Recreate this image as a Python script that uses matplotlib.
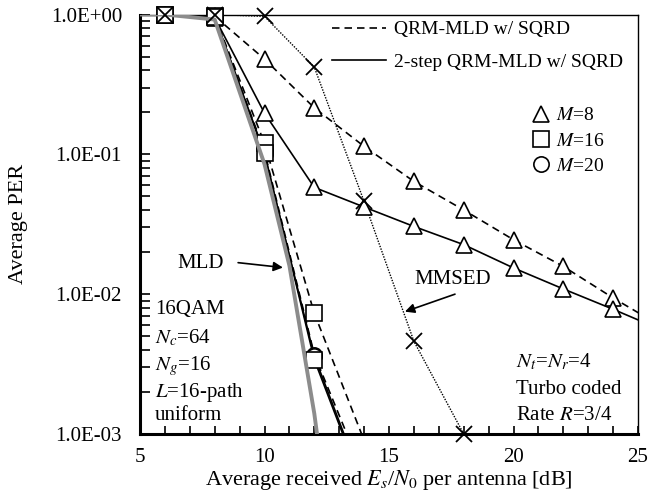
#!/usr/bin/env python
# -*- coding: utf-8 -*-

"""
Average PER vs. received Es/N0 for QRM-MLD w/ SQRD, 2-step QRM-MLD, MLD, MMSED.
"""

import numpy as np
import matplotlib
matplotlib.use("Agg")
import matplotlib.pyplot as plt
from matplotlib.lines import Line2D
from matplotlib.ticker import FixedLocator, MultipleLocator, LogLocator, NullFormatter

plt.rcParams['font.family'] = ['Liberation Serif', 'DejaVu Serif']
plt.rcParams['mathtext.fontset'] = 'stix'

# ---- data ----
snr = [6, 8, 10, 12, 14, 16, 18, 20, 22, 24, 26]

# M=8, QRM-MLD w/ SQRD (dashed)
per_qrm_m8 = [1.0, 0.97, 0.48, 0.215, 0.114, 0.064, 0.040, 0.0245, 0.0158, 0.0094, 0.0058]
# M=8, 2-step QRM-MLD w/ SQRD (solid)
per_2s_m8 = [1.0, 0.95, 0.197, 0.058, 0.042, 0.0305, 0.0226, 0.0154, 0.0109, 0.0078, 0.0055]

snr_hi = [6, 8, 10, 12, 14]
per_qrm_m16 = [1.0, 0.97, 0.12, 0.0073, 0.0009]
per_2s_m16 = [1.0, 0.96, 0.102, 0.0034, 0.0004]
per_qrm_m20 = [1.0, 0.96, 0.105, 0.0037, 0.0005]
per_2s_m20 = [1.0, 0.96, 0.100, 0.0036, 0.00042]

snr_mld = [5, 6, 8, 10, 11, 12, 12.5]
per_mld = [1.0, 1.0, 0.92, 0.085, 0.016, 0.0014, 0.0003]

snr_mmse = [6, 8, 10, 12, 14, 16, 18]
per_mmse = [1.0, 1.0, 0.97, 0.42, 0.046, 0.0046, 0.001]

y_ticks = [1e-3, 1e-2, 1e-1, 1.0]
y_tick_labels = ["1.0E-03", "1.0E-02", "1.0E-01", "1.0E+00"]

FS = 15
MS = 11

fig = plt.figure(figsize=(6.65, 5.0), dpi=100)
ax = fig.add_axes([140 / 665., 66 / 500., 498 / 665., 419.5 / 500.])
ax.set_yscale('log')
ax.set_xlim(5, 25)
ax.set_ylim(1e-3, 1.0)

dash = (0, (4.5, 3))


def curve(x, y, ls, marker, lw=1.2, color='black'):
    # line (clipped) + markers (not clipped, like the original)
    ax.plot(x, y, linestyle=ls, color=color, lw=lw, zorder=2)
    x = np.asarray(x, float)
    y = np.asarray(y, float)
    m = (y >= 1e-3 * 0.999) & (x <= 25)
    if marker is not None:
        ax.plot(x[m], y[m], linestyle='none', marker=marker, ms=MS,
                mfc='white', mec='black', mew=1.2, clip_on=False, zorder=3)


# MLD (thick gray)
ax.plot(snr_mld, per_mld, color='#8c8c8c', lw=2.8, zorder=4, clip_on=True)

# M=8 triangles
curve(snr, per_qrm_m8, dash, '^')
curve(snr, per_2s_m8, '-', '^')
# M=20 circles
curve(snr_hi, per_qrm_m20, dash, 'o')
curve(snr_hi, per_2s_m20, '-', 'o')
# M=16 squares
curve(snr_hi, per_qrm_m16, dash, 's')
curve(snr_hi, per_2s_m16, '-', 's')

# MMSED (dotted, crosses)
ax.plot(snr_mmse, per_mmse, linestyle=(0, (1, 1)), color='black', lw=1.0, zorder=2)
ax.plot(snr_mmse, per_mmse, linestyle='none', marker='x', ms=MS, mec='black',
        mew=1.3, clip_on=False, zorder=5)

# ---- axes styling ----
ax.yaxis.set_major_locator(FixedLocator(y_ticks))
ax.set_yticklabels(y_tick_labels)
ax.yaxis.set_minor_locator(LogLocator(base=10, subs=np.arange(2, 10)))
ax.yaxis.set_minor_formatter(NullFormatter())
ax.xaxis.set_major_locator(MultipleLocator(5))
ax.xaxis.set_minor_locator(MultipleLocator(1))

ax.tick_params(axis='both', which='both', direction='in', labelsize=FS,
               top=False, right=False, width=1.2)
ax.tick_params(axis='y', which='major', length=7, pad=13)
ax.tick_params(axis='y', which='minor', length=7)
ax.tick_params(axis='x', which='major', length=6, pad=10)
ax.tick_params(axis='x', which='minor', length=6)

ax.spines['left'].set_linewidth(2.2)
ax.spines['bottom'].set_linewidth(2.2)
ax.spines['top'].set_linewidth(1.0)
ax.spines['right'].set_linewidth(1.0)

ax.set_xlabel(r"Average received $E_s$/$N_0$ per antenna [dB]", fontsize=16, labelpad=1)
ax.set_ylabel("Average PER", fontsize=16, labelpad=16)

# ---- legends ----
h_lines = [Line2D([], [], color='black', lw=1.2, linestyle=dash),
           Line2D([], [], color='black', lw=1.2, linestyle='-')]
leg1 = ax.legend(h_lines, ["QRM-MLD w/ SQRD", "2-step QRM-MLD w/ SQRD"],
                 loc='upper left', bbox_to_anchor=(0.385, 0.985), frameon=False,
                 fontsize=14, handlelength=2.8, handletextpad=0.4,
                 labelspacing=0.75, borderpad=0, borderaxespad=0)
ax.add_artist(leg1)

h_marks = [Line2D([], [], linestyle='none', marker=m, ms=MS, mfc='white',
                  mec='black', mew=1.2) for m in ['^', 's', 'o']]
ax.legend(h_marks, ["$M$=8", "$M$=16", "$M$=20"],
          loc='upper left', bbox_to_anchor=(0.785, 0.78), frameon=False,
          fontsize=14, handlelength=1.0, handletextpad=0.3,
          labelspacing=0.4, borderpad=0, borderaxespad=0)

# ---- annotations ----
arrow = dict(arrowstyle='-|>', color='black', lw=1.2, mutation_scale=14,
             shrinkA=0, shrinkB=0)
ax.text(7.45, 0.0165, "MLD", fontsize=FS, ha='center', va='center')
ax.annotate("", xy=(10.74, 0.0155), xytext=(8.94, 0.0168), arrowprops=arrow)
ax.text(17.57, 0.0127, "MMSED", fontsize=FS, ha='center', va='center')
ax.annotate("", xy=(15.64, 0.0075), xytext=(17.65, 0.0100), arrowprops=arrow)

left_txt = ["16QAM", "$N_c$=64", "$N_g$=16", "$L$=16-path", "uniform"]
left_y = [310, 338, 366, 393, 416]
for s, py in zip(left_txt, left_y):
    ax.text(5.6, 10 ** (-(py - 14.5) / 140.), s, fontsize=FS, ha='left', va='center')

right_txt = ["$N_t$=$N_r$=4", "Turbo coded", "Rate $R$=3/4"]
right_y = [362, 390, 416]
for s, py in zip(right_txt, right_y):
    ax.text(20.1, 10 ** (-(py - 14.5) / 140.), s, fontsize=FS, ha='left', va='center')

fig.savefig("out.png", dpi=100)
